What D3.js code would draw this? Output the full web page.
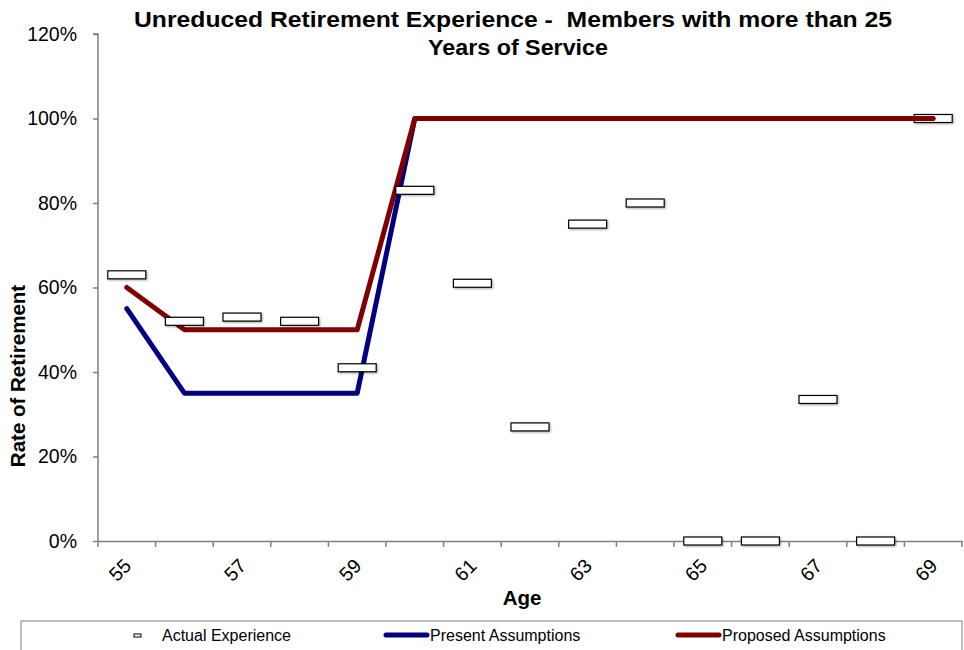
<!DOCTYPE html>
<html><head><meta charset="utf-8">
<script src="https://cdn.jsdelivr.net/npm/d3@7"></script>
<style>body{margin:0;background:#fff}svg{display:block;font-family:Arial,"Liberation Sans",sans-serif}</style>
</head><body><svg id="c" width="964" height="650"></svg>
<script>
const ages = [55,56,57,58,59,60,61,62,63,64,65,66,67,68,69];
const actual = [63,52,53,52,41,83,61,27,75,80,0,0,33.5,0,100];
const present = [55,35,35,35,35,100,100,100,100,100,100,100,100,100,100];
const proposed = [60,50,50,50,50,100,100,100,100,100,100,100,100,100,100];
const yTicks = [0,20,40,60,80,100,120];
const xLabels = [55,57,59,61,63,65,67,69];

const svg = d3.select("#c");
const m = {l:98, r:962, t:34, b:541};
const x = d3.scaleBand().domain(ages).range([m.l, m.r]);
const y = d3.scaleLinear().domain([0,120]).range([m.b, m.t]);
const cx = d => x(d) + x.bandwidth()/2;

const defs = svg.append("defs");
const f = defs.append("filter").attr("id","sh").attr("x","-30%").attr("y","-60%").attr("width","160%").attr("height","220%");
f.append("feDropShadow").attr("dx",1).attr("dy",1).attr("stdDeviation",1.2).attr("flood-color","#000").attr("flood-opacity",0.35);

// y axis
const ya = svg.append("g").attr("transform",`translate(${m.l},0)`)
  .call(d3.axisLeft(y).tickValues(yTicks).tickFormat(d=>d+"%").tickSize(5).tickPadding(16));
ya.select(".domain").attr("stroke","#808080").attr("stroke-width",1.5).attr("d",`M-5,${m.t}H0V${m.b}`);
ya.selectAll(".tick line").attr("stroke","#808080").attr("stroke-width",1.5);
ya.selectAll(".tick text").attr("font-size",19.5).attr("fill","#000").attr("font-family","Arial,'Liberation Sans',sans-serif");

// x axis
const xa = svg.append("g").attr("transform",`translate(0,${m.b})`)
  .call(d3.axisBottom(x).tickSize(0).tickFormat(""));
xa.select(".domain").attr("stroke","#808080").attr("stroke-width",1.5);
xa.selectAll(".tick").remove();
const bounds = ages.map(a=>x(a)).concat([m.r]);
xa.selectAll("line.tk").data(bounds).enter().append("line").attr("class","tk")
  .attr("x1",d=>d).attr("x2",d=>d).attr("y1",0).attr("y2",6).attr("stroke","#808080").attr("stroke-width",1.5);
xa.selectAll("text.lb").data(xLabels).enter().append("text").attr("class","lb")
  .attr("transform",d=>`translate(${cx(d)-7},${29}) rotate(-45)`)
  .attr("text-anchor","middle").attr("dy","0.35em").attr("font-size",19.5).attr("fill","#000").text(d=>d);

// lines
const line = d3.line().x((d,i)=>cx(ages[i])).y(d=>y(d));
svg.append("path").datum(present).attr("d",line).attr("fill","none").attr("stroke","#000080").attr("stroke-width",5).attr("stroke-linejoin","round").attr("stroke-linecap","round");
svg.append("path").datum(proposed).attr("d",line).attr("fill","none").attr("stroke","#800000").attr("stroke-width",5).attr("stroke-linejoin","round").attr("stroke-linecap","round");

// markers
svg.selectAll("rect.mk").data(actual).enter().append("rect").attr("class","mk")
  .attr("x",(d,i)=>cx(ages[i])-19).attr("y",d=>y(d)-4).attr("width",38).attr("height",8)
  .attr("fill","#fff").attr("stroke","#000").attr("stroke-width",1.2).attr("filter","url(#sh)");
svg.append("path").datum(proposed.slice(-2)).attr("d",d3.line().x((d,i)=>cx(ages[13+i])).y(d=>y(d)))
  .attr("fill","none").attr("stroke","#800000").attr("stroke-width",5).attr("stroke-linecap","round");

// titles
const t = svg.append("text").attr("text-anchor","middle").attr("font-size",22.5).attr("font-weight","bold").attr("xml:space","preserve").style("white-space","pre");
t.append("tspan").attr("x",513).attr("y",27).attr("textLength",758).attr("lengthAdjust","spacingAndGlyphs").text("Unreduced Retirement Experience -  Members with more than 25");
t.append("tspan").attr("x",518).attr("y",55).attr("textLength",180).attr("lengthAdjust","spacingAndGlyphs").text("Years of Service");
svg.append("text").attr("x",522).attr("y",605).attr("text-anchor","middle").attr("font-size",20.5).attr("font-weight","bold").text("Age");
svg.append("text").attr("transform","translate(25,376) rotate(-90)").attr("text-anchor","middle").attr("font-size",20.5).attr("font-weight","bold").text("Rate of Retirement");

// legend
const lg = svg.append("g");
lg.append("rect").attr("x",21).attr("y",621).attr("width",941).attr("height",40).attr("fill","#fff").attr("stroke","#808080").attr("stroke-width",1);
lg.append("rect").attr("x",134).attr("y",634).attr("width",7).attr("height",3).attr("fill","#fff").attr("stroke","#000").attr("stroke-width",1);
lg.append("text").attr("x",162).attr("y",641).attr("font-size",16).text("Actual Experience");
lg.append("line").attr("x1",386).attr("x2",427).attr("y1",635).attr("y2",635).attr("stroke","#000080").attr("stroke-width",5).attr("stroke-linecap","round");
lg.append("text").attr("x",430).attr("y",641).attr("font-size",16).text("Present Assumptions");
lg.append("line").attr("x1",678).attr("x2",719).attr("y1",635).attr("y2",635).attr("stroke","#800000").attr("stroke-width",5).attr("stroke-linecap","round");
lg.append("text").attr("x",722).attr("y",641).attr("font-size",16).text("Proposed Assumptions");
</script></body></html>
